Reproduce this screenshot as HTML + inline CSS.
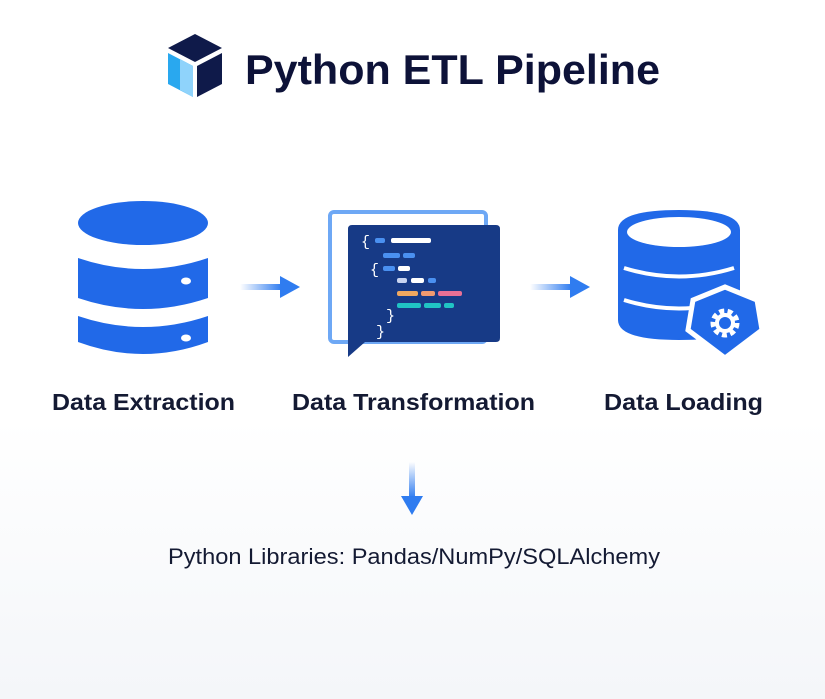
<!DOCTYPE html>
<html><head><meta charset="utf-8"><style>
html,body{margin:0;padding:0;background:#fff}
svg{display:block}
</style></head><body>
<svg width="825" height="699" viewBox="0 0 825 699" xmlns="http://www.w3.org/2000/svg">
<defs>
<linearGradient id="ag" x1="0" x2="1"><stop offset="0" stop-color="#2f7cf0" stop-opacity="0"/><stop offset="1" stop-color="#2f7cf0"/></linearGradient>
<linearGradient id="vg" x1="0" y1="0" x2="0" y2="1"><stop offset="0" stop-color="#2f7cf0" stop-opacity="0"/><stop offset="1" stop-color="#2f7cf0"/></linearGradient>
<linearGradient id="bg" x1="0" y1="0" x2="0" y2="1"><stop offset="0" stop-color="#fff"/><stop offset="0.6" stop-color="#fff"/><stop offset="1" stop-color="#f4f6f9"/></linearGradient>
</defs>
<rect width="825" height="699" fill="url(#bg)"/>
<!-- cube -->
<polygon points="195,34 222,48 195,62 168,48" fill="#0f1a4a"/>
<polygon points="168,53 193,66 193,97 168,84" fill="#29a8ef"/>
<polygon points="180,59 193,66 193,97 180,90" fill="#8fd3fb"/>
<polygon points="197,66 222,53 222,84 197,97" fill="#0f1a4a"/>
<text x="245" y="84" font-family="Liberation Sans, sans-serif" font-weight="bold" font-size="42" fill="#0d1238" textLength="415" lengthAdjust="spacingAndGlyphs">Python ETL Pipeline</text>
<!-- DB1 -->
<g fill="#2169e8">
<ellipse cx="143" cy="223" rx="65" ry="22"/>
<path d="M78,258 Q143,280 208,258 L208,298 Q143,320 78,298 Z"/>
<path d="M78,316 Q143,338 208,316 L208,342 Q143,366 78,342 Z"/>
</g>
<g fill="#fff"><ellipse cx="186" cy="252" rx="5" ry="3.5"/><ellipse cx="186" cy="281" rx="5" ry="3.5"/><ellipse cx="186" cy="312" rx="5" ry="3.5"/><ellipse cx="186" cy="338" rx="5" ry="3.5"/></g>
<!-- arrows -->
<rect x="240" y="284" width="42" height="6" fill="url(#ag)"/>
<polygon points="280,276 300,287 280,298" fill="#2f7cf0"/>
<rect x="530" y="284" width="42" height="6" fill="url(#ag)"/>
<polygon points="570,276 590,287 570,298" fill="#2f7cf0"/>
<!-- code panel -->
<rect x="330" y="212" width="156" height="130" rx="4" fill="none" stroke="#6ea8f5" stroke-width="4"/>
<path d="M350,225 H496 Q500,225 500,229 V338 Q500,342 496,342 H365 L348,357 V229 Q348,225 352,225 Z" fill="#173a86"/>
<g font-family="Liberation Mono, monospace" font-size="15" fill="#fff"><text x="361" y="246">{</text><text x="370" y="274">{</text><text x="386" y="320">}</text><text x="376" y="336">}</text></g>
<g>
<rect x="375" y="238" width="10" height="5" rx="2" fill="#4a90f0"/><rect x="391" y="238" width="40" height="5" rx="2" fill="#fff"/>
<rect x="383" y="253" width="17" height="5" rx="2" fill="#4a90f0"/><rect x="403" y="253" width="12" height="5" rx="2" fill="#4a90f0"/>
<rect x="383" y="266" width="12" height="5" rx="2" fill="#4a90f0"/><rect x="398" y="266" width="12" height="5" rx="2" fill="#fff"/>
<rect x="397" y="278" width="10" height="5" rx="2" fill="#c8d4f0"/><rect x="411" y="278" width="13" height="5" rx="2" fill="#fff"/><rect x="428" y="278" width="8" height="5" rx="2" fill="#4a90f0"/>
<rect x="397" y="291" width="21" height="5" rx="2" fill="#f0a860"/><rect x="421" y="291" width="14" height="5" rx="2" fill="#f09a70"/><rect x="438" y="291" width="24" height="5" rx="2" fill="#e87095"/>
<rect x="397" y="303" width="24" height="5" rx="2" fill="#20c4c4"/><rect x="424" y="303" width="17" height="5" rx="2" fill="#20c4c4"/><rect x="444" y="303" width="10" height="5" rx="2" fill="#20c4c4"/>
</g>
<!-- DB3 -->
<path d="M618,230 Q618,210 679,210 Q740,210 740,230 V320 Q740,340 679,340 Q618,340 618,320 Z" fill="#2169e8"/>
<ellipse cx="679" cy="232" rx="52" ry="15" fill="#fff"/>
<path d="M624,268 Q679,285 734,268" stroke="#fff" stroke-width="4" fill="none"/>
<path d="M624,300 Q679,317 734,300" stroke="#fff" stroke-width="4" fill="none"/>
<polygon points="725,287 757,300 762,330 725,358 688,330 693,300" fill="#2169e8" stroke="#fff" stroke-width="5"/>
<circle cx="725" cy="323" r="12" fill="none" stroke="#fff" stroke-width="5" stroke-dasharray="5 3.4"/>
<circle cx="725" cy="323" r="8" fill="none" stroke="#fff" stroke-width="4"/>
<!-- labels -->
<g font-family="Liberation Sans, sans-serif" font-weight="bold" font-size="23" fill="#141a33" lengthAdjust="spacingAndGlyphs">
<text x="52" y="410" textLength="183" lengthAdjust="spacingAndGlyphs">Data Extraction</text>
<text x="292" y="410" textLength="243" lengthAdjust="spacingAndGlyphs">Data Transformation</text>
<text x="604" y="410" textLength="159" lengthAdjust="spacingAndGlyphs">Data Loading</text>
</g>
<rect x="409" y="462" width="6" height="36" fill="url(#vg)"/>
<polygon points="401,496 423,496 412,515" fill="#2f7cf0"/>
<text x="168" y="564" font-family="Liberation Sans, sans-serif" font-size="22" fill="#141a33" textLength="492" lengthAdjust="spacingAndGlyphs">Python Libraries: Pandas/NumPy/SQLAlchemy</text>
</svg>
</body></html>
